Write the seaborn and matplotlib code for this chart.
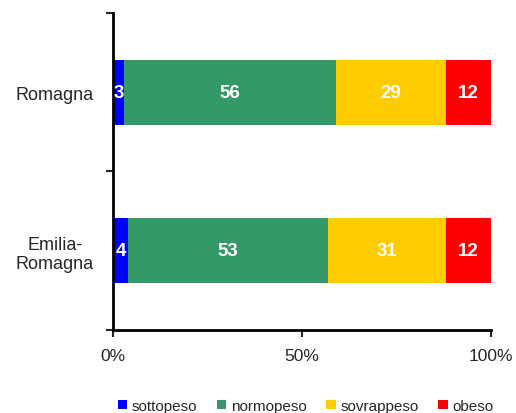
import matplotlib
matplotlib.use("Agg")
import matplotlib.pyplot as plt
import seaborn as sns
import pandas as pd
import numpy as np
from matplotlib.patches import Patch

sns.set_style("white")
plt.rcParams['font.family'] = ['Liberation Sans', 'DejaVu Sans']

regions = ["Romagna", "Emilia-\nRomagna"]
categories = ["sottopeso", "normopeso", "sovrappeso", "obeso"]
sottopeso = [3, 4]
normopeso = [56, 53]
sovrappeso = [29, 31]
obeso = [12, 12]
colors = ["#0000FF", "#339966", "#FFCC00", "#FF0000"]

series = [sottopeso, normopeso, sovrappeso, obeso]
cum = np.cumsum(np.array(series), axis=0)

fig = plt.figure(figsize=(5.16, 4.14), dpi=100)
ax = fig.add_axes([0.219, 0.2005, 0.7326, 0.7657])

# draw from the largest cumulative total down so each segment shows
for i in range(len(categories) - 1, -1, -1):
    df = pd.DataFrame({"region": regions, "value": cum[i]})
    sns.barplot(data=df, x="value", y="region", orient="h", color=colors[i],
                width=0.41, ax=ax, saturation=1, linewidth=0, order=regions)

for j in range(len(regions)):
    start = 0
    for i, s in enumerate(series):
        v = s[j]
        ax.text(start + v / 2, j, str(v), ha="center", va="center",
                color="white", fontweight="bold", fontsize=13.5)
        start += v

ax.set_xlim(0, 100)
ax.set_ylim(1.5, -0.5)
ax.set_xlabel("")
ax.set_ylabel("")
ax.set_xticks([0, 50, 100])
ax.set_xticklabels(["0%", "50%", "100%"], fontsize=12.5)
ax.set_yticks([-0.5, 0.5, 1.5])
ax.set_yticklabels([])
ax.set_yticks([0, 1], minor=True)
ax.set_yticklabels(regions, minor=True, fontsize=13)
ax.tick_params(axis="y", which="minor", length=0, pad=41.8)
ax.tick_params(axis="y", which="major", length=5, width=1.5, direction="out", left=True)
ax.tick_params(axis="x", length=5, width=1.5, direction="out", bottom=True, pad=8)
for lab in ax.get_yticklabels(minor=True):
    lab.set_horizontalalignment("center")
    lab.set_multialignment("center")
sns.despine(ax=ax, top=True, right=True)
for sp in ["left", "bottom"]:
    ax.spines[sp].set_linewidth(2)
    ax.spines[sp].set_color("black")

handles = [Patch(facecolor=c, edgecolor="none") for c in colors]
fig.legend(handles, categories, loc="center left", bbox_to_anchor=(118 / 516, 1 - 407 / 414),
           ncol=4, frameon=False, fontsize=11, handlelength=0.6, handleheight=0.6,
           handletextpad=0.3, columnspacing=1.3, borderpad=0, borderaxespad=0)

fig.savefig("out.png", dpi=100)
